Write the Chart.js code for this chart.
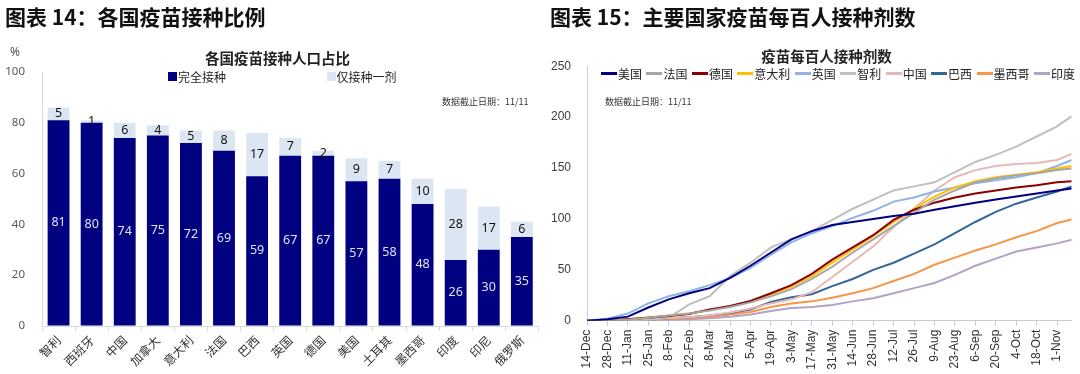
<!DOCTYPE html>
<html><head><meta charset="utf-8">
<script src="https://cdn.jsdelivr.net/npm/chart.js@4.4.0/dist/chart.umd.min.js"></script>
<style>
html,body{margin:0;padding:0;background:#fff;width:1080px;height:374px;overflow:hidden;}
#wrap{position:relative;width:1080px;height:374px;}
canvas{position:absolute;top:0;}
.h{position:absolute;font-family:"Noto Sans CJK SC",sans-serif;font-weight:700;font-size:21px;line-height:21px;color:#111;white-space:nowrap;}
.ct{position:absolute;width:240px;text-align:center;font-family:"Noto Sans CJK SC",sans-serif;font-weight:700;font-size:14.5px;line-height:14.5px;color:#222;white-space:nowrap;}
.note{position:absolute;font-family:"Noto Sans CJK SC",sans-serif;font-size:9px;line-height:9px;color:#333;white-space:nowrap;}
.pct{position:absolute;font-family:"Noto Sans",sans-serif;font-size:12px;line-height:12px;color:#555;}
.lgi{position:absolute;display:flex;align-items:center;font-family:"Noto Sans CJK SC",sans-serif;font-size:12px;line-height:12px;color:#222;white-space:nowrap;}
.lgi i{display:inline-block;width:9px;height:9px;margin-right:1px;}
#lg2{position:absolute;left:601px;top:67.7px;width:474px;display:flex;justify-content:space-between;align-items:center;font-family:"Noto Sans CJK SC",sans-serif;font-size:12px;line-height:12px;color:#222;white-space:nowrap;}
#lg2 span{display:flex;align-items:center;}
#lg2 i{display:inline-block;width:16px;height:2.5px;margin-right:1px;}
</style></head>
<body><div id="wrap">
<canvas id="c1" width="540" height="374" style="left:0"></canvas>
<canvas id="c2" width="540" height="374" style="left:540px"></canvas>
<div class="h" style="left:5px;top:6.2px">图表 14：各国疫苗接种比例</div>
<div class="h" style="left:550px;top:6.2px">图表 15：主要国家疫苗每百人接种剂数</div>
<div class="ct" style="left:157.5px;top:50.5px">各国疫苗接种人口占比</div>
<div class="ct" style="left:706.5px;top:48.7px">疫苗每百人接种剂数</div>
<div class="pct" style="left:10px;top:45.7px">%</div>
<div class="note" style="left:442px;top:97.2px">数据截止日期：11/11</div>
<div class="note" style="left:605px;top:96.5px">数据截止日期：11/11</div>
<div id="lg2"></div>
</div>
<script>
// ---------- Left chart data ----------
const barCountries = ['智利','西班牙','中国','加拿大','意大利','法国','巴西','英国','德国','美国','土耳其','墨西哥','印度','印尼','俄罗斯'];
const fullyVaccinated = [81,80,74,75,72,69,59,67,67,57,58,48,26,30,35];
const oneDoseOnly = [5,1,6,4,5,8,17,7,2,9,7,10,28,17,6];
const barSeriesNames = ['完全接种','仅接种一剂'];

// ---------- Right chart data ----------
const dateTicks = ['14-Dec','28-Dec','11-Jan','25-Jan','8-Feb','22-Feb','8-Mar','22-Mar','5-Apr','19-Apr','3-May','17-May','31-May','14-Jun','28-Jun','12-Jul','26-Jul','9-Aug','23-Aug','6-Sep','20-Sep','4-Oct','18-Oct','1-Nov'];
const lineDays = [0,14,28,42,56,70,84,98,112,126,140,154,168,182,196,210,224,238,252,266,280,294,308,322,332]; // days since 14-Dec
const lineNames = ['美国','法国','德国','意大利','英国','智利','中国','巴西','墨西哥','印度'];
const usDoses      = [0,1.5,4,13,21,27,32,42,54,67,80,88,94,97,100,103,105,109,112.5,116,119,122,125,128,130];
const franceDoses  = [0,0.1,1,3,5,7,10,13.5,18,24,31,41,53,67,80,93,106,119,128,136,140,143,145,148,149.5];
const germanyDoses = [0,0.3,1.5,3,4.5,6.5,11,14.5,19.5,27,35,46,60,72,84,99,109,116,121,125,128,131,133,136,137];
const italyDoses   = [0,0.2,1.5,3.5,5,7,10.5,14,19,26,33.5,43.5,57,70,83,97,110,122,131,137,141,143.5,146,149.5,152];
const ukDoses      = [0,2,7,17,24,29,35,42,52,65,77,86,93,101,108,117,121,127,131,135,138,141,145,152,158];
const chileDoses   = [0,0,0.3,0.8,3,16,24,44,57,72,80,88,99,110,119,128,132,136,146,156,163,171,181,191,201];
const chinaDoses   = [0,0.5,1,1.5,2.5,3.5,5,8,12,17,21,28,43,58,73,92,110,128,141,148,152,154,155,158,164];
const brazilDoses  = [0,0,0.2,1,2.5,3.5,5,7.5,11,18.5,23,26,34,41,50,57,66,75,86,97,107,115,121,127,132];
const mexicoDoses  = [0,0.1,0.5,0.8,1.5,2.5,4,6,8.5,13.5,17,19,22.5,27,32,39,46,55,62,69,75,82,88,96,99.5];
const indiaDoses   = [0,0,0,0.2,0.8,1.5,2.5,4,6,9.5,12.5,13.5,15.5,19,22,27,32,37,45,54,61,68,72,76,79.5];
const seriesValues = [usDoses,franceDoses,germanyDoses,italyDoses,ukDoses,chileDoses,chinaDoses,brazilDoses,mexicoDoses,indiaDoses];

// ---------- Styles ----------
const barColors = ['#000080','#DCE6F2'];
const barLabelColors = ['#DDE2F5','#111111'];
const lineColors = ['#000080','#A6A6A6','#8B0000','#FFC000','#8DB4E2','#BFBFBF','#E6B9B8','#336699','#F79646','#B3A2C7'];

Chart.defaults.font.family = "'Noto Sans CJK SC', sans-serif";
Chart.defaults.color = '#333';

const barValueLabels = {
  id: 'barValueLabels',
  afterDatasetsDraw(chart) {
    const ctx = chart.ctx;
    chart.data.datasets.forEach((ds, di) => {
      const meta = chart.getDatasetMeta(di);
      meta.data.forEach((bar, i) => {
        const p = bar.getCenterPoint();
        ctx.save();
        ctx.font = "12.5px 'Noto Sans', sans-serif";
        ctx.fillStyle = ds.valueLabelColor;
        ctx.textAlign = 'center';
        ctx.textBaseline = 'middle';
        ctx.fillText(String(ds.data[i]), p.x, p.y);
        ctx.restore();
      });
    });
  }
};

const chart1 = new Chart(document.getElementById('c1'), {
  type: 'bar',
  data: {
    labels: barCountries,
    datasets: [
      {label: barSeriesNames[0], data: fullyVaccinated, backgroundColor: barColors[0], valueLabelColor: barLabelColors[0], barPercentage: 0.66, categoryPercentage: 1},
      {label: barSeriesNames[1], data: oneDoseOnly, backgroundColor: barColors[1], valueLabelColor: barLabelColors[1], barPercentage: 0.66, categoryPercentage: 1}
    ]
  },
  options: {
    responsive: false, animation: false, devicePixelRatio: 1,
    layout: {padding: {left: 0, right: 1.6, top: 72, bottom: 0}},
    plugins: {legend: {display: false}, tooltip: {enabled: false}, title: {display: false}},
    scales: {
      x: {
        stacked: true,
        grid: {drawOnChartArea: false, drawTicks: true, tickLength: 5, color: '#d9d9d9', offset: true},
        border: {color: '#d9d9d9'},
        ticks: {autoSkip: false, minRotation: 45, maxRotation: 45, padding: 2, font: {size: 12}, color: '#333'},
        afterFit: s => { s.height = 48; }
      },
      y: {
        stacked: true, min: 0, max: 100,
        ticks: {stepSize: 20, padding: 17, font: {family: "'Noto Sans', sans-serif", size: 11.5}, color: '#595959'},
        grid: {drawOnChartArea: false, drawTicks: false, color: '#d9d9d9'},
        border: {color: '#d9d9d9'},
        afterFit: s => { s.width = 42; }
      }
    }
  },
  plugins: [barValueLabels]
});

const chart2 = new Chart(document.getElementById('c2'), {
  type: 'line',
  data: {
    datasets: lineNames.map((name, k) => ({
      label: name,
      data: lineDays.map((d, i) => ({x: d, y: seriesValues[k][i]})),
      borderColor: lineColors[k], backgroundColor: lineColors[k],
      borderWidth: 2, pointRadius: 0, tension: 0, fill: false
    }))
  },
  options: {
    responsive: false, animation: false, devicePixelRatio: 1,
    layout: {padding: {left: 0, right: 8.3, top: 66.3, bottom: 0}},
    plugins: {legend: {display: false}, tooltip: {enabled: false}, title: {display: false}},
    scales: {
      x: {
        type: 'linear', min: 0, max: 332,
        ticks: {stepSize: 14, includeBounds: false, autoSkip: false, minRotation: 90, maxRotation: 90, padding: 4,
          font: {family: "'Liberation Sans', Arial, sans-serif", size: 12}, color: '#333',
          callback: v => { const t = dateTicks[Math.round(v / 14)]; return (v % 14 === 0 && t) ? t : ''; }},
        grid: {drawOnChartArea: false, drawTicks: true, tickLength: 5, color: '#c9c9d6'},
        border: {color: '#c9c9d6'},
        afterFit: s => { s.height = 53.3; }
      },
      y: {
        min: 0, max: 250,
        ticks: {stepSize: 50, padding: 16, font: {family: "'Liberation Sans', Arial, sans-serif", size: 12}, color: '#404040'},
        grid: {drawOnChartArea: false, drawTicks: false, color: '#d0d0dc'},
        border: {color: '#d0d0dc'},
        afterFit: s => { s.width = 47; }
      }
    }
  }
});

// HTML legends built from the charts' datasets
const lg1Pos = [168, 326.5];
chart1.data.datasets.forEach((ds, i) => {
  const d = document.createElement('div');
  d.className = 'lgi';
  d.style.left = lg1Pos[i] + 'px';
  d.style.top = '70.7px';
  const sw = document.createElement('i');
  sw.style.background = ds.backgroundColor;
  d.appendChild(sw);
  d.appendChild(document.createTextNode(ds.label));
  document.getElementById('wrap').appendChild(d);
});
const lg2 = document.getElementById('lg2');
chart2.data.datasets.forEach(ds => {
  const s = document.createElement('span');
  const sw = document.createElement('i');
  sw.style.background = ds.borderColor;
  s.appendChild(sw);
  s.appendChild(document.createTextNode(ds.label));
  lg2.appendChild(s);
});
</script>
</body></html>
